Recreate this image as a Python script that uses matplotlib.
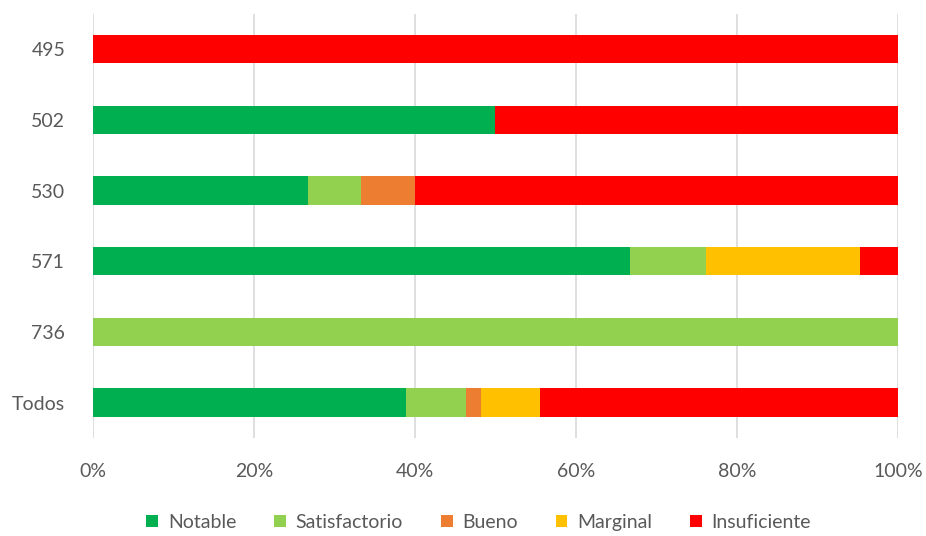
import numpy as np
import matplotlib
matplotlib.use('Agg')
import matplotlib.pyplot as plt
from matplotlib.ticker import PercentFormatter

plt.rcParams['font.family'] = ['Lato', 'DejaVu Sans']

# categorías (de abajo hacia arriba) y número de alumnos por nivel
grupos = ['Todos', '736', '571', '530', '502', '495']
notable = [21, 0, 14, 4, 3, 0]
satisfactorio = [4, 1, 2, 1, 0, 0]
bueno = [1, 0, 0, 1, 0, 0]
marginal = [4, 0, 4, 0, 0, 0]
insuficiente = [24, 0, 1, 9, 3, 11]

niveles = ['Notable', 'Satisfactorio', 'Bueno', 'Marginal', 'Insuficiente']
colores = ['#00b050', '#92d050', '#ed7d31', '#ffc000', '#ff0000']

datos = np.array([notable, satisfactorio, bueno, marginal, insuficiente], dtype=float)
pct = datos / datos.sum(axis=0) * 100

fig = plt.figure(figsize=(9.26, 5.36), dpi=100)
ax = fig.add_axes([0.1004, 0.183, 0.8693, 0.791])

y = np.arange(len(grupos))
izq = np.zeros(len(grupos))
for i in range(len(niveles)):
    ax.barh(y, pct[i], left=izq, height=0.4, color=colores[i], label=niveles[i], zorder=3)
    izq += pct[i]

ax.set_xlim(0, 100)
ax.set_ylim(-0.5, 5.5)
ax.set_yticks(y)
ax.set_yticklabels(grupos)
ax.set_xticks(np.arange(0, 101, 20))
ax.xaxis.set_major_formatter(PercentFormatter(decimals=0))
ax.grid(axis='x', color='#d9d9d9', linewidth=1.2, zorder=0)
for s in ax.spines.values():
    s.set_visible(False)
ax.tick_params(axis='both', length=0, labelsize=14, colors='#595959')
ax.tick_params(axis='x', pad=18)
ax.tick_params(axis='y', pad=20)

leg = fig.legend(loc='center', bbox_to_anchor=(0.517, 0.026), ncol=5, frameon=False,
                 fontsize=14, handlelength=0.6, handleheight=0.6, handletextpad=0.5,
                 columnspacing=1.95, labelcolor='#595959')

fig.savefig('out.png', dpi=100)
